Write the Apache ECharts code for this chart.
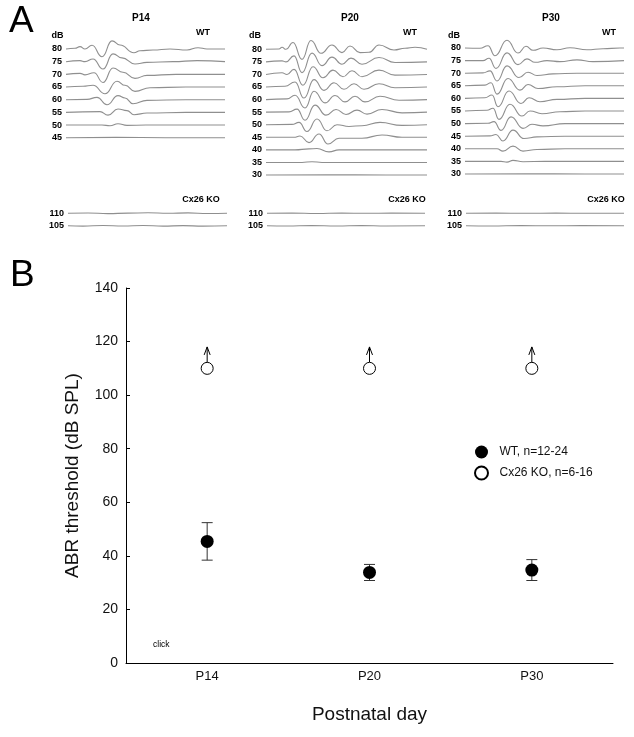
<!DOCTYPE html>
<html>
<head>
<meta charset="utf-8">
<script src="https://cdn.jsdelivr.net/npm/echarts@6/dist/echarts.min.js"></script>
<style>html,body{margin:0;padding:0;background:#fff}#c{width:634px;height:737px}</style>
</head>
<body>
<div id="c"></div>
<script>
// ---------- Panel A data: ABR waveforms (deflection per trace, sample vs amplitude) ----------
const p14Levels = [80, 75, 70, 65, 60, 55, 50, 45];
const p14Traces = [
  [[0,0],[9,0.7],[14,2.3],[19,0],[26,3.7],[36,-7.7],[46,8],[54,4],[68,-3.7],[74,-1.7],[87,-1],[104,0],[121,-1],[132,1.3],[141,0],[159,0]],
  [[0,0],[14,1],[19,0],[27,2.7],[37,-7.3],[47,7.7],[56,3.7],[69,-2.3],[81,-0.7],[107,0],[131,1],[159,0]],
  [[0,0],[14,1],[19,-0.5],[28,1.5],[37,-8],[47,6.3],[57,2],[69,-4],[81,-1],[110,0],[159,0]],
  [[0,0],[17,0.7],[27,1.7],[39,-6.7],[51,5.7],[59,1.7],[69,-4.3],[84,-0.7],[120,0],[159,0]],
  [[0,0],[21,0.3],[31,2.3],[41,-5],[52,4],[59,1.7],[67,-4],[81,-0.7],[120,0],[159,0]],
  [[0,0],[34,0.7],[42,-2.7],[52,3.3],[61,1.7],[68,-2.3],[81,-0.7],[120,0],[159,0]],
  [[0,0],[36,0],[44,-0.7],[52,1.3],[61,-0.3],[80,0],[159,0]],
  [[0,0],[50,0.3],[100,0],[159,0]]
];
const p20Levels = [80, 75, 70, 65, 60, 55, 50, 45, 40, 35, 30];
const p20Traces = [
  [[0,0],[13,0.3],[16,2],[20,0],[27,6.7],[36,-10],[45,8.7],[55,-4],[66,4.3],[76,-3.3],[84,3.3],[94,-3.3],[103,-3],[113,4.3],[128,-0.7],[139,1],[149,2],[161,0]],
  [[0,0],[16,1],[20,0],[28,6],[36,-10.7],[46,8.7],[56,-3.7],[66,4.7],[76,-2.3],[85,3.7],[96,-2.3],[113,4.3],[129,-0.7],[161,0]],
  [[0,0],[16,1.7],[21,0],[28,5],[37,-10.7],[47,7.7],[57,-3.3],[67,4.3],[77,-2.3],[86,3.7],[96,-2.3],[113,4.3],[129,-0.7],[161,0]],
  [[0,0],[19,0.7],[29,5],[38,-11],[48,7.3],[58,-3.3],[68,4.3],[78,-2.3],[88,3.3],[98,-2.3],[113,3.3],[129,-0.7],[161,0]],
  [[0,0],[21,0.7],[29,4.3],[39,-8.3],[48,8.3],[59,-3.3],[69,4],[79,-2.3],[89,3.3],[99,-2.3],[114,3.3],[133,-0.7],[161,0]],
  [[0,0],[23,0.3],[31,3],[39,-8],[49,7],[60,-3],[70,2.7],[80,-2.3],[91,2],[101,-2],[116,2.7],[136,-0.7],[161,0]],
  [[0,0],[26,0.3],[33,2.3],[41,-6.7],[51,5.7],[61,-6],[71,0],[83,-1.7],[96,-1],[114,2.3],[136,-0.7],[161,0]],
  [[0,0],[28,0],[34,1.3],[43,-5.3],[53,3.3],[62,-6.7],[73,-1],[96,-1],[116,2.3],[136,0],[161,0]],
  [[0,0],[29,0],[43,1],[51,1.3],[63,-2],[73,0],[161,0]],
  [[0,0],[36,0],[46,0.7],[56,0],[161,0]],
  [[0,0],[60,0.3],[120,0],[161,0]]
];
const p30Levels = [80, 75, 70, 65, 60, 55, 50, 45, 40, 35, 30];
const p30Traces = [
  [[0,0],[15,-0.3],[23,2.3],[30,-7.7],[42,7.7],[53,-5],[61,1.7],[68,-2.3],[78,0],[92,-1.7],[105,0.3],[122,-1.7],[138,-0.7],[155,0],[159,0]],
  [[0,0],[18,0],[24,2.3],[31,-7.7],[42,7.7],[53,-4],[62,1.7],[70,-1.7],[82,0],[95,-1],[112,0.7],[128,-1],[159,0]],
  [[0,0],[18,0.3],[25,2.3],[32,-7.7],[42,7.3],[54,-4.3],[63,1],[72,-2.3],[88,-0.7],[112,0],[159,0]],
  [[0,0],[20,0.7],[26,3],[32,-8.3],[43,7.3],[55,-4.3],[63,1.3],[73,-2.7],[92,-1],[120,0],[159,0]],
  [[0,0],[20,0.7],[27,3.3],[33,-8.3],[44,7.3],[56,-5],[64,0.7],[75,-3.3],[92,-1],[120,0],[159,0]],
  [[0,0],[22,0.7],[28,2.7],[34,-8.3],[45,6.7],[57,-5],[65,0],[77,-2.7],[95,-0.7],[120,0],[159,0]],
  [[0,0],[23,0.3],[29,2],[36,-6.7],[46,6.7],[58,-4.7],[67,-0.7],[78,-2.3],[100,0],[159,0]],
  [[0,0],[25,0.3],[31,1.7],[38,-4.7],[48,6],[59,-2.3],[72,-0.7],[100,0],[159,0]],
  [[0,0],[32,0],[38,-2.3],[48,2.7],[58,-2.3],[72,-0.7],[100,0],[159,0]],
  [[0,0],[36,0],[42,-0.7],[48,1],[58,-0.3],[80,0],[159,0]],
  [[0,0],[60,0.2],[120,0],[159,0]]
];
const koLevels = [110, 105];
const koP14Traces = [
  [[0,0],[20,0.3],[40,-0.3],[60,0.2],[80,0.5],[100,0],[120,0.4],[140,-0.2],[159,0]],
  [[0,0],[15,-0.3],[35,0.3],[55,-0.2],[75,0.3],[95,-0.3],[115,0.2],[135,-0.3],[159,0]]
];
const koP20Traces = [
  [[0,0],[25,0.2],[50,-0.2],[75,0.2],[100,0],[125,0.2],[159,0]],
  [[0,0],[20,-0.2],[45,0.2],[70,-0.2],[95,0.2],[120,-0.2],[159,0]]
];
const koP30Traces = [
  [[0,0],[30,0.2],[60,0],[90,0.2],[120,0],[158,0]],
  [[0,0],[25,-0.2],[55,0.2],[85,0],[115,0.2],[158,0]]
];

// ---------- Panel B data ----------
const days = ['P14', 'P20', 'P30'];
const wtMean = [45.4, 33.8, 34.7];
const wtErr = [7.0, 3.0, 3.9];
const koThreshold = [110, 110, 110];
const koArrowTip = [118, 118, 118];
const yTicks = { min: 0, max: 140, interval: 20 };

// ---------- Build ----------
const FONT = '"Liberation Sans", Arial, Helvetica, sans-serif';
const GAIN = 0.4; // display gain: amplitude units -> dB offset on the stacked axis
const wavePanels = [
  { levels: p14Levels, traces: p14Traces, xMax: 159, grid: { left: 66, top: 49, width: 159, height: 88.7 } },
  { levels: p20Levels, traces: p20Traces, xMax: 161, grid: { left: 266, top: 49.3, width: 161, height: 125.7 } },
  { levels: p30Levels, traces: p30Traces, xMax: 159, grid: { left: 465, top: 48, width: 159, height: 126 } },
  { levels: koLevels, traces: koP14Traces, xMax: 159, grid: { left: 68, top: 213.3, width: 159, height: 12.5 } },
  { levels: koLevels, traces: koP20Traces, xMax: 161, grid: { left: 267, top: 213.3, width: 160, height: 12.5 } },
  { levels: koLevels, traces: koP30Traces, xMax: 158, grid: { left: 466, top: 213.3, width: 158, height: 12.5 } }
];

const grids = [], xAxes = [], yAxes = [], series = [];
wavePanels.forEach((p, i) => {
  grids.push(Object.assign({ outerBoundsMode: 'none', containLabel: false }, p.grid));
  xAxes.push({ type: 'value', gridIndex: i, min: 0, max: p.xMax, show: false });
  const lo = Math.min.apply(null, p.levels), hi = Math.max.apply(null, p.levels);
  yAxes.push({
    type: 'value', gridIndex: i, min: lo, max: hi, interval: 5,
    axisLine: { show: false }, axisTick: { show: false }, splitLine: { show: false },
    axisLabel: { show: true, margin: 4, fontSize: 9, fontWeight: 'bold', color: '#000', fontFamily: FONT }
  });
  p.traces.forEach((tr, k) => {
    const lvl = p.levels[k];
    series.push({
      type: 'line', xAxisIndex: i, yAxisIndex: i,
      data: tr.map(pt => [pt[0], lvl + pt[1] * GAIN]),
      smooth: 0.5, smoothMonotone: 'x', symbol: 'none', showSymbol: false,
      lineStyle: { color: '#8f8f8f', width: 1.1 }, clip: false, silent: true
    });
  });
});

// Panel B grid
const bIdx = wavePanels.length;
grids.push({ left: 126, right: 21, top: 288, bottom: 74, outerBoundsMode: 'none', containLabel: false });
xAxes.push({
  type: 'category', gridIndex: bIdx, data: days, boundaryGap: true,
  axisLine: { show: true, lineStyle: { color: '#000', width: 1 } },
  axisTick: { show: false },
  axisLabel: { fontSize: 13, color: '#111', margin: 7, fontFamily: FONT },
  name: 'Postnatal day', nameLocation: 'middle', nameGap: 42,
  nameTextStyle: { fontSize: 19, color: '#111', fontFamily: FONT }
});
yAxes.push({
  type: 'value', gridIndex: bIdx, min: yTicks.min, max: yTicks.max, interval: yTicks.interval,
  axisLine: { show: true, lineStyle: { color: '#000', width: 1 } },
  axisTick: { show: true, inside: true, length: 4, lineStyle: { color: '#000' } },
  splitLine: { show: false },
  axisLabel: { fontSize: 14, color: '#111', margin: 8, fontFamily: FONT },
  name: 'ABR threshold (dB SPL)', nameLocation: 'middle', nameGap: 44, nameRotate: 90,
  nameTextStyle: { fontSize: 19, color: '#111', fontFamily: FONT }
});

// error bars
series.push({
  type: 'custom', xAxisIndex: bIdx, yAxisIndex: bIdx, silent: true, z: 2,
  data: days.map((d, i) => [i, wtMean[i], wtErr[i]]),
  encode: { x: 0, y: 1 },
  renderItem: function (params, api) {
    const x = api.value(0), m = api.value(1), e = api.value(2);
    const top = api.coord([x, m + e]), bot = api.coord([x, m - e]);
    const hw = 5.5;
    const st = { stroke: '#333', lineWidth: 1 };
    return { type: 'group', children: [
      { type: 'line', shape: { x1: top[0], y1: top[1], x2: bot[0], y2: bot[1] }, style: st },
      { type: 'line', shape: { x1: top[0] - hw, y1: top[1], x2: top[0] + hw, y2: top[1] }, style: st },
      { type: 'line', shape: { x1: bot[0] - hw, y1: bot[1], x2: bot[0] + hw, y2: bot[1] }, style: st }
    ]};
  }
});
// arrows above KO points (threshold beyond max stimulus)
series.push({
  type: 'custom', xAxisIndex: bIdx, yAxisIndex: bIdx, silent: true, z: 2,
  data: days.map((d, i) => [i, koThreshold[i], koArrowTip[i]]),
  encode: { x: 0, y: 1 },
  renderItem: function (params, api) {
    const x = api.value(0);
    const c = api.coord([x, api.value(1)]), t = api.coord([x, api.value(2)]);
    const st = { stroke: '#000', lineWidth: 1, fill: null };
    return { type: 'group', children: [
      { type: 'line', shape: { x1: c[0], y1: c[1] - 6, x2: t[0], y2: t[1] }, style: st },
      { type: 'polyline', shape: { points: [[t[0] - 3, t[1] + 8], [t[0], t[1]], [t[0] + 3, t[1] + 8]] }, style: st }
    ]};
  }
});
series.push({
  name: 'WT, n=12-24', type: 'scatter', xAxisIndex: bIdx, yAxisIndex: bIdx, z: 3,
  data: days.map((d, i) => [i, wtMean[i]]), symbol: 'circle', symbolSize: 13,
  itemStyle: { color: '#000', opacity: 1 }
});
series.push({
  name: 'Cx26 KO, n=6-16', type: 'scatter', xAxisIndex: bIdx, yAxisIndex: bIdx, z: 3,
  data: days.map((d, i) => [i, koThreshold[i]]), symbol: 'circle', symbolSize: 12,
  itemStyle: { color: '#fff', borderColor: '#000', borderWidth: 1, opacity: 1 }
});

function txt(x, y, s, font, align) {
  return { type: 'text', x: x, y: y, silent: true,
    style: { text: s, font: font, fill: '#000', align: align || 'center', verticalAlign: 'middle',
             textAlign: align || 'center', textVerticalAlign: 'middle' } };
}
const bold9 = 'bold 9px ' + FONT;
const graphics = [
  txt(9, 22, 'A', '37px ' + FONT, 'left'),
  txt(10, 276, 'B', '37px ' + FONT, 'left'),
  txt(141, 18.5, 'P14', 'bold 10px ' + FONT),
  txt(350, 18.5, 'P20', 'bold 10px ' + FONT),
  txt(551, 18.5, 'P30', 'bold 10px ' + FONT),
  txt(57.5, 36, 'dB', bold9), txt(255, 36, 'dB', bold9), txt(454, 36, 'dB', bold9),
  txt(203, 33, 'WT', bold9), txt(410, 33, 'WT', bold9), txt(609, 33, 'WT', bold9),
  txt(201, 200, 'Cx26 KO', bold9), txt(407, 200, 'Cx26 KO', bold9), txt(606, 200, 'Cx26 KO', bold9),
  txt(153, 645, 'click', '8.5px ' + FONT, 'left')
];

const chart = echarts.init(document.getElementById('c'), null, { renderer: 'canvas' });
chart.setOption({
  animation: false,
  backgroundColor: '#fff',
  textStyle: { fontFamily: FONT },
  grid: grids, xAxis: xAxes, yAxis: yAxes, series: series,
  legend: {
    show: true, orient: 'vertical', left: 474, top: 445.5, padding: 0,
    itemWidth: 20, itemHeight: 13, itemGap: 7, selectedMode: false,
    data: ['WT, n=12-24', 'Cx26 KO, n=6-16'],
    textStyle: { fontSize: 12, color: '#111', fontFamily: FONT, padding: [0, 0, 0, 3] }
  },
  graphic: graphics
});
</script>
</body>
</html>
